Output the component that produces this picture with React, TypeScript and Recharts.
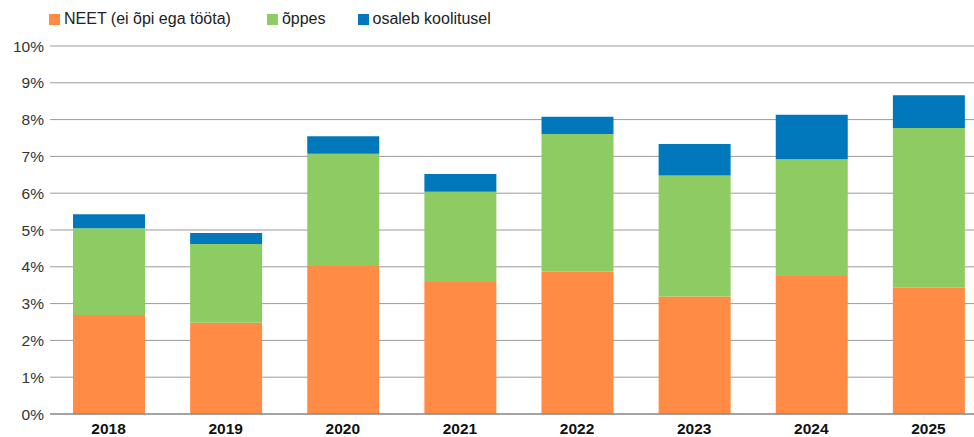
import { BarChart, Bar, XAxis, YAxis, CartesianGrid } from 'recharts'

const years = ['2018', '2019', '2020', '2021', '2022', '2023', '2024', '2025']
const neet = [2.69, 2.48, 4.02, 3.59, 3.87, 3.19, 3.75, 3.44]
const oppes = [2.36, 2.14, 3.05, 2.45, 3.74, 3.29, 3.17, 4.33]
const koolitus = [0.38, 0.3, 0.48, 0.48, 0.47, 0.86, 1.21, 0.89]
const yTicks = [0, 1, 2, 3, 4, 5, 6, 7, 8, 9, 10]

const series = [
  { key: 'neet', name: 'NEET (ei õpi ega tööta)', color: '#FF8B45', gap: 36 },
  { key: 'oppes', name: 'õppes', color: '#8DCB63', gap: 32 },
  { key: 'koolitus', name: 'osaleb koolitusel', color: '#0078BB', gap: 0 },
]

const rows = years.map((y, i) => ({ year: y, neet: neet[i], oppes: oppes[i], koolitus: koolitus[i] }))

const font = '"Liberation Sans", Arial, Helvetica, sans-serif'

export default function App() {
  return (
    <div style={{ position: 'fixed', left: 0, top: 0, width: 974, height: 437, overflow: 'hidden', background: '#fff', fontFamily: font }}>
      <div style={{ position: 'absolute', left: 49, top: 10, display: 'flex', alignItems: 'center', fontSize: 16, color: '#222' }}>
        {series.map((s) => (
          <div key={s.key} style={{ display: 'flex', alignItems: 'center', marginRight: s.gap }}>
            <span style={{ width: 11, height: 11, background: s.color, display: 'inline-block', marginRight: 4 }} />
            <span>{s.name}</span>
          </div>
        ))}
      </div>
      <BarChart width={990} height={437} data={rows} margin={{ top: 46, right: 3, left: 0, bottom: 0 }}>
        <CartesianGrid vertical={false} stroke="#9a9a9a" />
        <XAxis
          dataKey="year"
          tickLine={false}
          axisLine={{ stroke: '#7a7a7a' }}
          tickSize={0}
          tickMargin={9}
          height={23}
          tick={{ fill: '#111', fontSize: 15.5, fontWeight: 'bold', fontFamily: font }}
        />
        <YAxis
          domain={[0, 10]}
          ticks={yTicks}
          width={50}
          tickLine={false}
          axisLine={false}
          tickSize={0}
          tickMargin={6}
          tickFormatter={(v) => `${v}%`}
          tick={{ fill: '#333', fontSize: 15.5, fontFamily: font }}
        />
        {series.map((s) => (
          <Bar key={s.key} dataKey={s.key} name={s.name} stackId="a" fill={s.color} barSize={72} isAnimationActive={false} />
        ))}
      </BarChart>
    </div>
  )
}
